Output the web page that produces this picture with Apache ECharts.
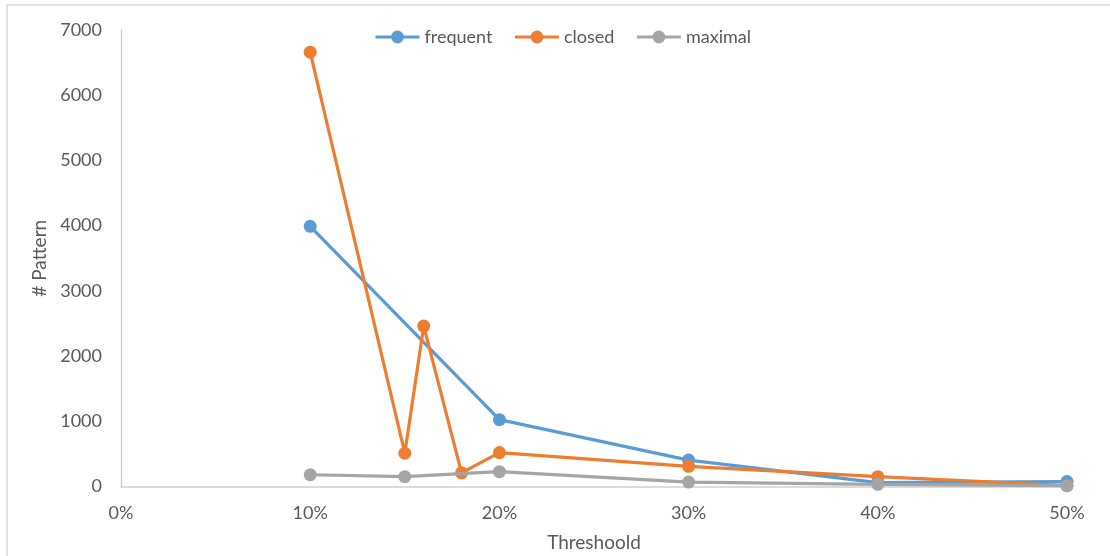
<!DOCTYPE html>
<html>
<head>
<meta charset="utf-8">
<title># Pattern vs Threshoold</title>
<script src="https://cdn.jsdelivr.net/npm/echarts@6/dist/echarts.min.js"></script>
<style>
  html, body { margin: 0; padding: 0; background: #ffffff; }
  #chart { width: 1110px; height: 556px; }
</style>
</head>
<body>
<div id="chart"></div>
<script>
// Threshold (%) at which each series was measured
const frequentX = [10, 20, 30, 40, 50];
const frequentY = [3990, 1025, 405, 60, 75];

const closedX = [10, 15, 16, 18, 20, 30, 40, 50];
const closedY = [6660, 510, 2460, 210, 520, 310, 150, 12];

const maximalX = [10, 15, 20, 30, 40, 50];
const maximalY = [180, 150, 228, 68, 34, 12];

const yTicks = { min: 0, max: 7000, interval: 1000 };
const xTicks = { min: 0, max: 50, interval: 10 };

const pairs = (xs, ys) => xs.map((x, i) => [x, ys[i]]);

const textColor = '#595959';
const fontFamily = 'Lato, "Open Sans", sans-serif';

const chart = echarts.init(document.getElementById('chart'), null, { renderer: 'canvas' });

function lineSeries(name, color, data, z) {
  return {
    name: name,
    type: 'line',
    data: data,
    z: z,
    symbol: 'circle',
    symbolSize: 13,
    showSymbol: true,
    lineStyle: { color: color, width: 3.2 },
    itemStyle: { color: color },
    emphasis: { disabled: true },
    animation: false
  };
}

chart.setOption({
  backgroundColor: '#ffffff',
  animation: false,
  graphic: [{
    type: 'rect',
    shape: { x: 7, y: 5, width: 1200, height: 600 },
    style: { fill: 'none', stroke: '#d9d9d9', lineWidth: 1.5 },
    silent: true,
    z: -1
  }],
  legend: {
    left: 369,
    top: 23,
    itemWidth: 44,
    itemHeight: 16,
    itemGap: 21,
    lineStyle: { width: 3 },
    textStyle: { color: textColor, fontSize: 18, fontFamily: fontFamily },
    data: ['frequent', 'closed', 'maximal']
  },
  grid: {
    left: 121,
    right: 43,
    top: 30,
    bottom: 69.5,
    containLabel: false,
    outerBoundsMode: 'none'
  },
  xAxis: {
    type: 'value',
    min: xTicks.min,
    max: xTicks.max,
    interval: xTicks.interval,
    name: 'Threshoold',
    nameLocation: 'middle',
    nameGap: 47,
    nameTextStyle: { color: textColor, fontSize: 19, fontFamily: fontFamily },
    axisLine: { show: true, lineStyle: { color: '#d0d0d0', width: 1.5 } },
    axisTick: { show: false },
    splitLine: { show: false },
    axisLabel: {
      color: textColor,
      fontSize: 18,
      fontFamily: fontFamily,
      margin: 18,
      formatter: '{value}%'
    }
  },
  yAxis: {
    type: 'value',
    min: yTicks.min,
    max: yTicks.max,
    interval: yTicks.interval,
    name: '# Pattern',
    nameLocation: 'middle',
    nameGap: 63,
    nameRotate: 90,
    nameTextStyle: { color: textColor, fontSize: 19, fontFamily: fontFamily },
    axisLine: { show: true, lineStyle: { color: '#c8c8c8', width: 1.2 } },
    axisTick: { show: false },
    splitLine: { show: false },
    axisLabel: {
      color: textColor,
      fontSize: 18,
      fontFamily: fontFamily,
      margin: 19,
      formatter: (v) => String(v)
    }
  },
  series: [
    lineSeries('frequent', '#5B9BD5', pairs(frequentX, frequentY), 2),
    lineSeries('closed', '#ED7D31', pairs(closedX, closedY), 3),
    lineSeries('maximal', '#A5A5A5', pairs(maximalX, maximalY), 4)
  ]
});
</script>
</body>
</html>
